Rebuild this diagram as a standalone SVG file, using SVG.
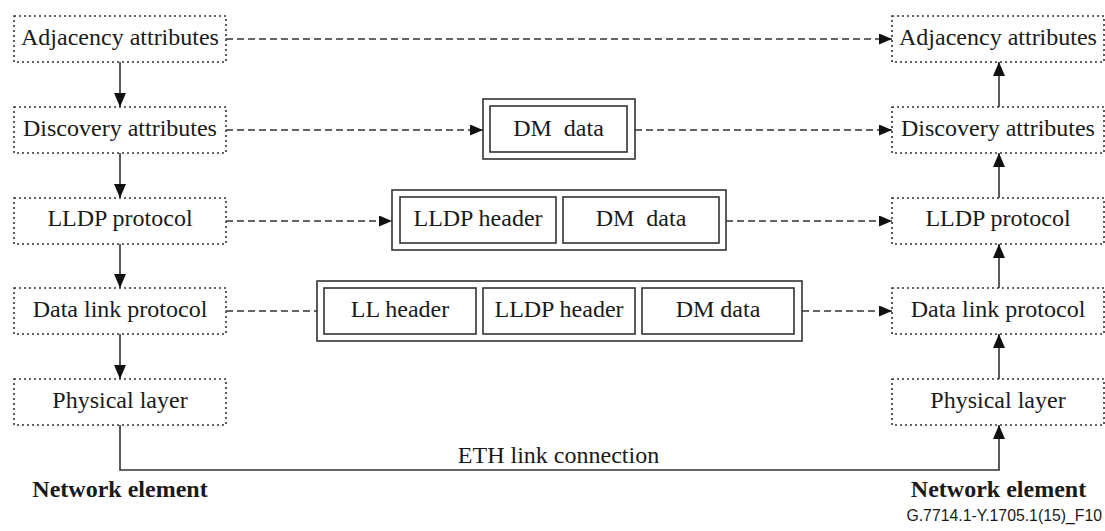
<svg xmlns="http://www.w3.org/2000/svg" width="1105" height="531" viewBox="0 0 1105 531">
<style>
.layer{fill:#fff;stroke:#333;stroke-width:1.6;stroke-dasharray:2 3}
text{font-family:'Liberation Serif','Times New Roman','DejaVu Serif',serif}
.lbl{font-size:24px;fill:#1a1a1a;text-anchor:middle}
.pkt{fill:none;stroke:#333;stroke-width:1.6}
.dash{fill:none;stroke:#333;stroke-width:1.6;stroke-dasharray:7 4}
.solid{fill:none;stroke:#333;stroke-width:1.6}
.bold{font-size:24px;font-weight:bold;fill:#1a1a1a;text-anchor:middle}
text.fig{font-family:'Liberation Sans',Arial,sans-serif;font-size:15.8px;fill:#1a1a1a;text-anchor:end}
</style>
<defs>
<marker id="ah" markerWidth="13" markerHeight="11" refX="13" refY="5.5" orient="auto" markerUnits="userSpaceOnUse">
<path d="M0,0 L13,5.5 L0,11 Z" fill="#111"/>
</marker>
<marker id="av" markerWidth="14" markerHeight="12" refX="14" refY="6" orient="auto" markerUnits="userSpaceOnUse">
<path d="M0,0 L14,6 L0,12 Z" fill="#111"/>
</marker>
</defs>

<g id="connectors">
<path class="solid" d="M120,62 V107" marker-end="url(#av)"/>
<path class="solid" d="M120,153 V198" marker-end="url(#av)"/>
<path class="solid" d="M120,244 V288" marker-end="url(#av)"/>
<path class="solid" d="M120,334 V379" marker-end="url(#av)"/>
<path class="solid" d="M999,107 V62" marker-end="url(#av)"/>
<path class="solid" d="M999,198 V153" marker-end="url(#av)"/>
<path class="solid" d="M999,288 V244" marker-end="url(#av)"/>
<path class="solid" d="M999,379 V334" marker-end="url(#av)"/>
<path class="solid" d="M120,425 V470 H999 V425" marker-end="url(#av)"/>
<path class="dash" d="M226,39 H892" marker-end="url(#ah)"/>
<path class="dash" d="M226,130 H483" marker-end="url(#ah)"/>
<path class="dash" d="M635,130 H892" marker-end="url(#ah)"/>
<path class="dash" d="M226,221 H392" marker-end="url(#ah)"/>
<path class="dash" d="M726,221 H892" marker-end="url(#ah)"/>
<path class="dash" d="M226,311 H317"/>
<path class="dash" d="M802,311 H892" marker-end="url(#ah)"/>
</g>

<g id="left-adjacency"><rect class="layer" x="14" y="16" width="212" height="46"/><text class="lbl" x="120" y="45">Adjacency attributes</text></g>
<g id="left-discovery"><rect class="layer" x="14" y="107" width="212" height="46"/><text class="lbl" x="120" y="136">Discovery attributes</text></g>
<g id="left-lldp"><rect class="layer" x="14" y="198" width="212" height="46"/><text class="lbl" x="120" y="226">LLDP protocol</text></g>
<g id="left-datalink"><rect class="layer" x="14" y="288" width="212" height="46"/><text class="lbl" x="120" y="317">Data link protocol</text></g>
<g id="left-physical"><rect class="layer" x="14" y="379" width="212" height="46"/><text class="lbl" x="120" y="408">Physical layer</text></g>

<g id="right-adjacency"><rect class="layer" x="892" y="16" width="212" height="46"/><text class="lbl" x="998" y="45">Adjacency attributes</text></g>
<g id="right-discovery"><rect class="layer" x="892" y="107" width="212" height="46"/><text class="lbl" x="998" y="136">Discovery attributes</text></g>
<g id="right-lldp"><rect class="layer" x="892" y="198" width="212" height="46"/><text class="lbl" x="998" y="226">LLDP protocol</text></g>
<g id="right-datalink"><rect class="layer" x="892" y="288" width="212" height="46"/><text class="lbl" x="998" y="317">Data link protocol</text></g>
<g id="right-physical"><rect class="layer" x="892" y="379" width="212" height="46"/><text class="lbl" x="998" y="408">Physical layer</text></g>

<g id="pdu-dm">
<rect class="pkt" x="483" y="99" width="152" height="60"/>
<rect class="pkt" x="490" y="106" width="137" height="46"/>
<text class="lbl" x="558.5" y="136" xml:space="preserve">DM  data</text>
</g>
<g id="pdu-lldp">
<rect class="pkt" x="392" y="190" width="334" height="60"/>
<rect class="pkt" x="400" y="197" width="156" height="46"/>
<text class="lbl" x="478" y="226">LLDP header</text>
<rect class="pkt" x="563" y="197" width="156" height="46"/>
<text class="lbl" x="641" y="226" xml:space="preserve">DM  data</text>
</g>
<g id="pdu-ll">
<rect class="pkt" x="317" y="281" width="485" height="60"/>
<rect class="pkt" x="324" y="288" width="152" height="46"/>
<text class="lbl" x="400" y="317">LL header</text>
<rect class="pkt" x="483" y="288" width="152" height="46"/>
<text class="lbl" x="559" y="317">LLDP header</text>
<rect class="pkt" x="642" y="288" width="152" height="46"/>
<text class="lbl" x="718" y="317">DM data</text>
</g>

<g id="labels">
<text class="lbl" x="558.5" y="463">ETH link connection</text>
<text class="bold" x="120" y="497">Network element</text>
<text class="bold" x="998.5" y="497">Network element</text>
<text class="fig" x="1102" y="521">G.7714.1-Y.1705.1(15)_F10</text>
</g>
</svg>
